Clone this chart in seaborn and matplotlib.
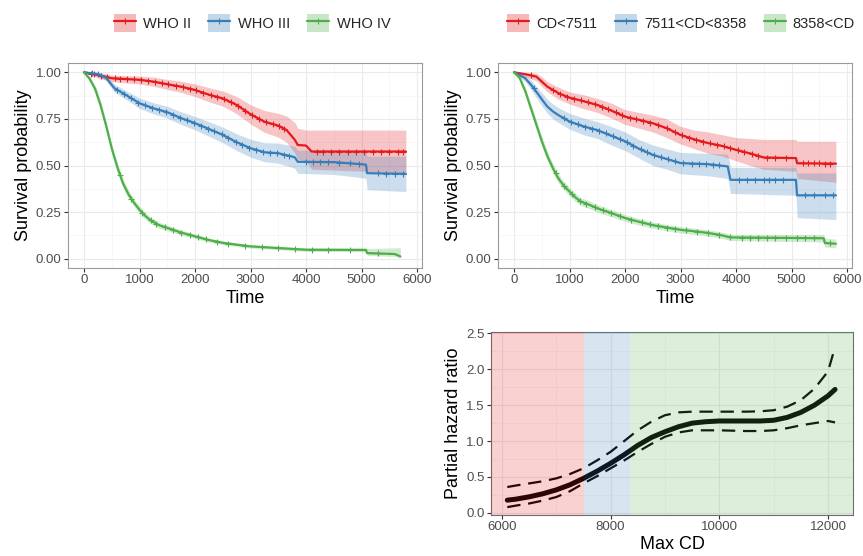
import numpy as np
import pandas as pd
import matplotlib
matplotlib.use("Agg")
import matplotlib.pyplot as plt
import seaborn as sns
from matplotlib.lines import Line2D
from matplotlib.patches import Patch

# ---------------- data ----------------
RED, BLUE, GREEN = "#E41A1C", "#377EB8", "#4DAF4A"

# Panel 1: WHO groups (Kaplan-Meier estimates)
who2_t = [0, 250, 500, 750, 1000, 1250, 1500, 1750, 2000, 2250, 2500, 2750, 3000, 3250, 3500, 3650, 3800, 3850, 4000, 4100, 5800]
who2_s = [1.0, 0.985, 0.968, 0.964, 0.96, 0.95, 0.936, 0.923, 0.905, 0.88, 0.86, 0.825, 0.775, 0.735, 0.714, 0.69, 0.637, 0.61, 0.607, 0.575, 0.575]
who2_lo = [1.0, 0.97, 0.95, 0.943, 0.937, 0.925, 0.908, 0.892, 0.87, 0.842, 0.818, 0.778, 0.722, 0.678, 0.652, 0.624, 0.565, 0.535, 0.525, 0.48, 0.46]
who2_hi = [1.0, 1.0, 0.985, 0.982, 0.98, 0.974, 0.962, 0.952, 0.938, 0.918, 0.9, 0.87, 0.826, 0.795, 0.78, 0.765, 0.73, 0.7, 0.69, 0.69, 0.69]
who2_cens = [120, 180, 300, 420, 560, 650, 780, 900, 1020, 1150, 1280, 1400, 1520, 1650, 1780, 1900, 2020, 2150, 2280, 2400, 2520,
             2650, 2780, 2900, 3030, 3150, 3280, 3400, 3520, 3600, 4200, 4300, 4450, 4600, 4750, 4900, 5050, 5200, 5350, 5500, 5650, 5750]

who3_t = [0, 250, 400, 450, 550, 700, 900, 1000, 1250, 1500, 1750, 2000, 2250, 2500, 2750, 3000, 3250, 3500, 3750, 3800, 3850, 4500, 5000, 5080, 5100, 5800]
who3_s = [1.0, 0.99, 0.97, 0.95, 0.914, 0.888, 0.852, 0.834, 0.807, 0.786, 0.754, 0.727, 0.696, 0.664, 0.625, 0.593, 0.571, 0.566, 0.548, 0.543, 0.52, 0.518, 0.507, 0.504, 0.459, 0.455]
who3_lo = [1.0, 0.98, 0.955, 0.932, 0.893, 0.865, 0.826, 0.806, 0.777, 0.754, 0.72, 0.691, 0.657, 0.622, 0.58, 0.545, 0.52, 0.512, 0.49, 0.484, 0.458, 0.452, 0.435, 0.43, 0.37, 0.36]
who3_hi = [1.0, 1.0, 0.985, 0.968, 0.935, 0.911, 0.878, 0.862, 0.837, 0.818, 0.788, 0.763, 0.735, 0.706, 0.67, 0.641, 0.622, 0.62, 0.606, 0.602, 0.582, 0.584, 0.579, 0.578, 0.55, 0.55]
who3_cens = [150, 250, 600, 720, 850, 980, 1100, 1230, 1350, 1480, 1600, 1730, 1850, 1980, 2100, 2230, 2350, 2480, 2600, 2730,
             2850, 2980, 3100, 3230, 3350, 3480, 3600, 3700, 4000, 4120, 4250, 4400, 4600, 4800, 4950, 5300, 5450, 5600, 5750]

who4_t = [0, 100, 200, 300, 400, 500, 600, 700, 800, 900, 1000, 1100, 1200, 1350, 1500, 1750, 2000, 2250, 2500, 2750, 3000, 3500, 4000, 5000, 5080, 5100, 5600, 5700]
who4_s = [1.0, 0.965, 0.91, 0.82, 0.71, 0.59, 0.49, 0.405, 0.345, 0.30, 0.262, 0.23, 0.205, 0.18, 0.165, 0.14, 0.12, 0.10, 0.085, 0.075, 0.066, 0.057, 0.048, 0.047, 0.047, 0.03, 0.025, 0.012]
who4_lo = [1.0, 0.95, 0.89, 0.795, 0.685, 0.565, 0.465, 0.38, 0.322, 0.28, 0.243, 0.212, 0.188, 0.164, 0.15, 0.127, 0.108, 0.089, 0.075, 0.066, 0.057, 0.048, 0.039, 0.038, 0.038, 0.018, 0.012, 0.003]
who4_hi = [1.0, 0.98, 0.93, 0.845, 0.735, 0.615, 0.515, 0.43, 0.368, 0.32, 0.282, 0.248, 0.222, 0.196, 0.18, 0.154, 0.132, 0.111, 0.095, 0.085, 0.075, 0.066, 0.058, 0.057, 0.057, 0.055, 0.058, 0.06]
who4_cens = [650, 850, 1050, 1200, 1300, 1450, 1600, 1750, 1900, 2050, 2200, 2400, 2600, 2900, 3200, 3500, 3800, 4100, 4400, 4800, 5300]

# Panel 2: CD groups
cd1_t = [0, 200, 400, 500, 600, 800, 1000, 1250, 1500, 1750, 2000, 2250, 2500, 2750, 3000, 3250, 3500, 3750, 4000, 4250, 4500, 5000, 5080, 5100, 5800]
cd1_s = [1.0, 0.99, 0.977, 0.95, 0.923, 0.888, 0.864, 0.845, 0.825, 0.795, 0.762, 0.745, 0.727, 0.70, 0.664, 0.64, 0.62, 0.605, 0.584, 0.565, 0.543, 0.54, 0.54, 0.512, 0.51]
cd1_lo = [1.0, 0.975, 0.955, 0.925, 0.895, 0.855, 0.83, 0.805, 0.785, 0.755, 0.72, 0.70, 0.68, 0.65, 0.615, 0.59, 0.565, 0.55, 0.525, 0.50, 0.48, 0.47, 0.47, 0.43, 0.41]
cd1_hi = [1.0, 1.0, 0.995, 0.975, 0.95, 0.92, 0.895, 0.88, 0.86, 0.835, 0.80, 0.785, 0.77, 0.75, 0.71, 0.69, 0.68, 0.665, 0.65, 0.645, 0.64, 0.64, 0.64, 0.63, 0.63]
cd1_cens = [300, 700, 830, 950, 1080, 1200, 1330, 1450, 1580, 1700, 1830, 1950, 2080, 2200, 2330, 2450, 2600, 2750, 2900, 3030,
            3150, 3280, 3400, 3530, 3650, 3780, 3900, 4030, 4150, 4280, 4400, 4550, 4700, 4900, 5200, 5300, 5400, 5500, 5600, 5700]

cd2_t = [0, 100, 200, 300, 400, 500, 600, 700, 800, 1000, 1250, 1500, 1750, 2000, 2250, 2500, 2750, 3000, 3500, 3850, 3900, 5080, 5100, 5800]
cd2_s = [1.0, 0.985, 0.968, 0.935, 0.896, 0.855, 0.816, 0.79, 0.77, 0.736, 0.71, 0.69, 0.66, 0.63, 0.59, 0.557, 0.535, 0.513, 0.507, 0.495, 0.423, 0.423, 0.34, 0.34]
cd2_lo = [1.0, 0.975, 0.95, 0.91, 0.865, 0.82, 0.78, 0.75, 0.73, 0.695, 0.665, 0.645, 0.61, 0.58, 0.54, 0.50, 0.48, 0.455, 0.445, 0.43, 0.35, 0.34, 0.22, 0.21]
cd2_hi = [1.0, 0.995, 0.985, 0.96, 0.925, 0.89, 0.855, 0.83, 0.81, 0.78, 0.755, 0.735, 0.71, 0.68, 0.64, 0.61, 0.59, 0.57, 0.565, 0.56, 0.49, 0.49, 0.46, 0.46]
cd2_cens = [350, 900, 1030, 1150, 1280, 1400, 1530, 1650, 1780, 1900, 2030, 2150, 2280, 2400, 2530, 2650, 2780, 2900, 3050,
            3200, 3330, 3450, 3580, 3700, 4050, 4200, 4350, 4500, 4600, 4700, 4850, 5250, 5400, 5600, 5750]

cd3_t = [0, 100, 200, 300, 400, 500, 600, 700, 800, 900, 1000, 1100, 1200, 1350, 1500, 1750, 2000, 2250, 2500, 2750, 3000, 3250, 3500, 3750, 3900, 5500, 5580, 5600, 5800]
cd3_s = [1.0, 0.97, 0.9, 0.81, 0.72, 0.63, 0.55, 0.485, 0.43, 0.39, 0.36, 0.33, 0.307, 0.29, 0.27, 0.245, 0.218, 0.198, 0.18, 0.167, 0.155, 0.147, 0.138, 0.125, 0.114, 0.11, 0.11, 0.084, 0.08]
cd3_lo = [1.0, 0.955, 0.88, 0.785, 0.695, 0.605, 0.525, 0.46, 0.405, 0.367, 0.338, 0.308, 0.286, 0.27, 0.25, 0.226, 0.2, 0.18, 0.163, 0.15, 0.138, 0.13, 0.121, 0.108, 0.097, 0.09, 0.09, 0.062, 0.058]
cd3_hi = [1.0, 0.985, 0.92, 0.835, 0.745, 0.655, 0.575, 0.51, 0.455, 0.413, 0.382, 0.352, 0.328, 0.31, 0.29, 0.264, 0.236, 0.216, 0.197, 0.184, 0.172, 0.164, 0.155, 0.142, 0.131, 0.13, 0.13, 0.11, 0.105]
cd3_cens = [750, 900, 1050, 1180, 1300, 1450, 1600, 1750, 1900, 2100, 2300, 2450, 2600, 2750, 2900, 3100, 3300, 3500,
            3700, 3900, 4100, 4250, 4400, 4550, 4700, 4900, 5100, 5250, 5400, 5700]

# Panel 3: partial hazard ratio vs Max CD
cd_x = [6100, 6250, 6500, 6750, 7000, 7250, 7500, 7750, 8000, 8250, 8500, 8750, 9000, 9250, 9500, 9750, 10000, 10250, 10500, 10750, 11000, 11250, 11500, 11750, 12000, 12130]
hr_fit = [0.177, 0.19, 0.223, 0.265, 0.32, 0.39, 0.48, 0.58, 0.69, 0.81, 0.94, 1.05, 1.13, 1.20, 1.25, 1.27, 1.28, 1.28, 1.28, 1.28, 1.29, 1.33, 1.40, 1.50, 1.63, 1.72]
hr_upper = [0.36, 0.38, 0.41, 0.44, 0.48, 0.54, 0.62, 0.73, 0.85, 1.00, 1.15, 1.27, 1.36, 1.40, 1.41, 1.41, 1.41, 1.41, 1.41, 1.415, 1.43, 1.48, 1.57, 1.73, 1.97, 2.31]
hr_lower = [0.08, 0.10, 0.13, 0.17, 0.22, 0.30, 0.41, 0.51, 0.62, 0.73, 0.85, 0.96, 1.06, 1.12, 1.15, 1.15, 1.15, 1.145, 1.14, 1.14, 1.15, 1.18, 1.22, 1.25, 1.28, 1.26]
cd_cuts = [7511, 8358]

who_labels = ["WHO II", "WHO III", "WHO IV"]
cd_labels = ["CD<7511", "7511<CD<8358", "8358<CD"]
colors = [RED, BLUE, GREEN]

# ---------------- style ----------------
sns.set_theme(style="white")
plt.rcParams["font.family"] = ["Liberation Sans", "DejaVu Sans"]

TICK_C = "#4D4D4D"
fig = plt.figure(figsize=(8.63, 5.56), dpi=100)
ax1 = fig.add_axes([68 / 863, 1 - 268 / 556, 354 / 863, 205 / 556])
ax2 = fig.add_axes([498 / 863, 1 - 268 / 556, 354 / 863, 205 / 556])
ax3 = fig.add_axes([491 / 863, 1 - 515 / 556, 362 / 863, 183 / 556])


def style_axes(ax, spine_color="#9A9A9A"):
    ax.set_axisbelow(True)
    ax.grid(True, which="major", color="#EBEBEB", lw=0.8)
    ax.grid(True, which="minor", color="#F4F4F4", lw=0.5)
    for sp in ax.spines.values():
        sp.set_color(spine_color)
        sp.set_linewidth(0.8)
    ax.tick_params(axis="both", which="major", direction="out", length=3, width=0.8,
                   color="#333333", labelcolor=TICK_C, labelsize=9.5, pad=1.5,
                   bottom=True, left=True)
    ax.tick_params(axis="both", which="minor", length=0)


def km_panel(ax, series, labels, legend_x):
    for (t, s, lo, hi, cens), col, lab in zip(series, colors, labels):
        t = np.asarray(t, float)
        s = np.asarray(s, float)
        df = pd.DataFrame({"Time": t, "Survival probability": s})
        ax.fill_between(t, lo, hi, color=col, alpha=0.25, lw=0)
        sns.lineplot(data=df, x="Time", y="Survival probability", ax=ax, color=col,
                     estimator=None, sort=False, lw=1.6)
        c = np.asarray(cens, float)
        ax.plot(c, np.interp(c, t, s), ls="none", marker="+", ms=4, mew=0.8, color=col)
    ax.set_xlim(-290, 6090)
    ax.set_ylim(-0.05, 1.05)
    ax.set_xticks([0, 1000, 2000, 3000, 4000, 5000, 6000])
    ax.set_xticks([500, 1500, 2500, 3500, 4500, 5500], minor=True)
    ax.set_yticks([0, 0.25, 0.5, 0.75, 1.0])
    ax.set_yticks([0.125, 0.375, 0.625, 0.875], minor=True)
    ax.set_yticklabels(["0.00", "0.25", "0.50", "0.75", "1.00"])
    ax.set_xlabel("Time", fontsize=13, labelpad=3, color="black")
    ax.set_ylabel("Survival probability", fontsize=13, labelpad=3, color="black")
    style_axes(ax)
    handles = [(Patch(facecolor=col, alpha=0.3, lw=0),
                Line2D([], [], color=col, lw=1.6, marker="|", ms=5, mew=0.8))
               for col in colors]
    fig.legend(handles, labels, loc="center", bbox_to_anchor=(legend_x, 1 - 23 / 556),
               ncol=3, frameon=False, fontsize=10.5, handlelength=1.5, handleheight=1.5,
               handletextpad=0.5, columnspacing=1.2, borderaxespad=0)


km_panel(ax1, [(who2_t, who2_s, who2_lo, who2_hi, who2_cens),
               (who3_t, who3_s, who3_lo, who3_hi, who3_cens),
               (who4_t, who4_s, who4_lo, who4_hi, who4_cens)], who_labels, 252 / 863)
km_panel(ax2, [(cd1_t, cd1_s, cd1_lo, cd1_hi, cd1_cens),
               (cd2_t, cd2_s, cd2_lo, cd2_hi, cd2_cens),
               (cd3_t, cd3_s, cd3_lo, cd3_hi, cd3_cens)], cd_labels, 681 / 863)

# Panel 3
df3 = pd.DataFrame({"Max CD": cd_x, "fit": hr_fit, "upper": hr_upper, "lower": hr_lower})
sns.lineplot(data=df3, x="Max CD", y="fit", ax=ax3, color="black", lw=3.6, zorder=2)
sns.lineplot(data=df3, x="Max CD", y="upper", ax=ax3, color="black", lw=1.6, zorder=2,
             linestyle=(0, (6, 3.5)))
sns.lineplot(data=df3, x="Max CD", y="lower", ax=ax3, color="black", lw=1.6, zorder=2,
             linestyle=(0, (6, 3.5)))
x0, x1 = 5800, 12460
bounds = [x0, cd_cuts[0], cd_cuts[1], x1]
for i, col in enumerate(colors):
    ax3.axvspan(bounds[i], bounds[i + 1], color=col, alpha=0.2, lw=0, zorder=3)
ax3.set_xlim(x0, x1)
ax3.set_ylim(-0.03, 2.52)
ax3.set_xticks([6000, 8000, 10000, 12000])
ax3.set_xticks([7000, 9000, 11000], minor=True)
ax3.set_yticks([0, 0.5, 1.0, 1.5, 2.0, 2.5])
ax3.set_yticks([0.25, 0.75, 1.25, 1.75, 2.25], minor=True)
ax3.set_yticklabels(["0.0", "0.5", "1.0", "1.5", "2.0", "2.5"])
ax3.set_xlabel("Max CD", fontsize=13, labelpad=2, color="black")
ax3.set_ylabel("Partial hazard ratio", fontsize=13, labelpad=3, color="black")
style_axes(ax3, spine_color="#6E6E6E")

fig.savefig("out.png", dpi=100)
